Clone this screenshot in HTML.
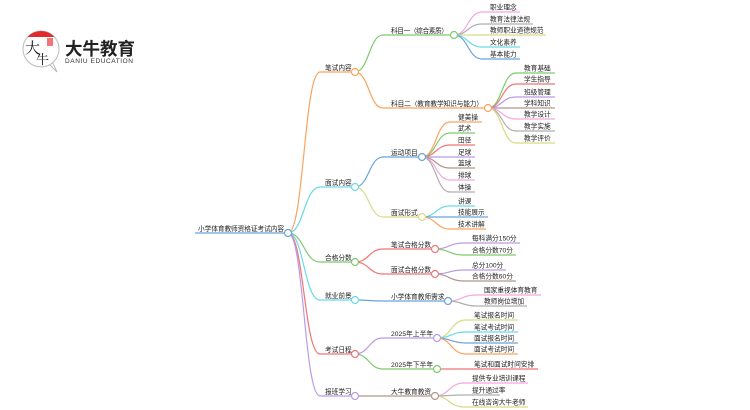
<!DOCTYPE html>
<html><head><meta charset="utf-8">
<style>
html,body{margin:0;padding:0;background:#fff;}
svg{display:block;}
text{font-family:"Liberation Sans","Noto Sans CJK SC",sans-serif;fill:#222;}
.t{font-size:6.7px;}
</style></head>
<body>
<svg width="750" height="410" viewBox="0 0 750 410" xmlns="http://www.w3.org/2000/svg">
<defs>
<clipPath id="lc"><circle cx="41" cy="49" r="18"/></clipPath>
</defs>
<!-- logo -->
<g>
<path d="M48,63 L57,72 L52,61 Z" fill="#fff" stroke="#bbb" stroke-width="1"/>
<circle cx="41" cy="49" r="18" fill="#fff" stroke="#bbb" stroke-width="1"/>
<rect x="20" y="28" width="42" height="9" fill="#E12B2B" clip-path="url(#lc)"/>
<text x="25" y="53" style="font-size:15px;font-family:'Noto Serif CJK SC',serif;fill:#111;">大</text>
<text x="36" y="64" style="font-size:13px;font-family:'Noto Serif CJK SC',serif;fill:#111;">牛</text>
<rect x="47" y="38" width="6" height="8" fill="#E55" opacity="0.8"/>
<text x="65" y="55" textLength="70" style="font-size:17.5px;font-weight:bold;fill:#222;">大牛教育</text>
<text x="65" y="63" textLength="68" style="font-size:6.5px;fill:#333;">DANIU EDUCATION</text>
</g>

<g fill="none" stroke-width="1.2">
<!-- root -->
<path d="M195,233 L288,233" stroke="#6AA3DB"/>
<!-- level1 edges -->
<path d="M288,233 C304,233 304,72 320,72 L355,72" stroke="#FBA35E"/>
<path d="M288,233 C304,233 304,187 320,187 L355,187" stroke="#6BD9EA"/>
<path d="M288,233 C304,233 304,262 320,262 L355,262" stroke="#7DCB6E"/>
<path d="M288,233 C304,233 304,300 320,300 L355,300" stroke="#6BD9EA"/>
<path d="M288,233 C304,233 304,354 320,354 L355,354" stroke="#F07575"/>
<path d="M288,233 C304,233 304,396 320,396 L355,396" stroke="#B99AE6"/>
<!-- level2 edges -->
<path d="M355,72 C369,72 369,35 383,35 L454,35" stroke="#7DCB6E"/>
<path d="M355,72 C369,72 369,108 383,108 L488,108" stroke="#FBA35E"/>
<path d="M355,187 C369,187 369,157 383,157 L422,157" stroke="#6AA3DB"/>
<path d="M355,187 C369,187 369,217 383,217 L422,217" stroke="#D9DB84"/>
<path d="M355,262 C369,262 369,249 383,249 L435,249" stroke="#F07575"/>
<path d="M355,262 C369,262 369,274 383,274 L435,274" stroke="#F07575"/>
<path d="M355,300 C369,300 369,301 383,301 L448,301" stroke="#6AA3DB"/>
<path d="M355,354 C369,354 369,338 383,338 L437,338" stroke="#B99AE6"/>
<path d="M355,354 C369,354 369,369 383,369 L437,369" stroke="#7DCB6E"/>
<path d="M355,396 C369,396 369,396 383,396 L435,396" stroke="#B2968C"/>
<!-- 科目一 leaves -->
<path d="M454,35 C468,35 468,12 482,12 L520,12" stroke="#F3A6E0"/>
<path d="M454,35 C468,35 468,24 482,24 L533,24" stroke="#AFAFAF"/>
<path d="M454,35 C468,35 468,35 482,35 L546,35" stroke="#D9DB84"/>
<path d="M454,35 C468,35 468,47 482,47 L520,47" stroke="#6BD9EA"/>
<path d="M454,35 C468,35 468,59 482,59 L520,59" stroke="#6AA3DB"/>
<!-- 科目二 leaves -->
<path d="M488,108 C502,108 502,73 516,73 L555,73" stroke="#7DCB6E"/>
<path d="M488,108 C502,108 502,84 516,84 L555,84" stroke="#F07575"/>
<path d="M488,108 C502,108 502,97 516,97 L555,97" stroke="#B99AE6"/>
<path d="M488,108 C502,108 502,108 516,108 L555,108" stroke="#B2968C"/>
<path d="M488,108 C502,108 502,119 516,119 L555,119" stroke="#F3A6E0"/>
<path d="M488,108 C502,108 502,131 516,131 L555,131" stroke="#AFAFAF"/>
<path d="M488,108 C502,108 502,143 516,143 L555,143" stroke="#D9DB84"/>
<!-- 运动项目 leaves -->
<path d="M422,157 C436,157 436,122 450,122 L482,122" stroke="#FBA35E"/>
<path d="M422,157 C436,157 436,133 450,133 L475,133" stroke="#7DCB6E"/>
<path d="M422,157 C436,157 436,145 450,145 L475,145" stroke="#F07575"/>
<path d="M422,157 C436,157 436,157 450,157 L475,157" stroke="#B99AE6"/>
<path d="M422,157 C436,157 436,168 450,168 L475,168" stroke="#B2968C"/>
<path d="M422,157 C436,157 436,180 450,180 L475,180" stroke="#F3A6E0"/>
<path d="M422,157 C436,157 436,192 450,192 L475,192" stroke="#AFAFAF"/>
<!-- 面试形式 leaves -->
<path d="M422,217 C436,217 436,206 450,206 L475,206" stroke="#6BD9EA"/>
<path d="M422,217 C436,217 436,217 450,217 L488,217" stroke="#6AA3DB"/>
<path d="M422,217 C436,217 436,229 450,229 L486,229" stroke="#FBA35E"/>
<!-- 合格分数 leaves -->
<path d="M435,249 C449,249 449,243 464,243 L520,243" stroke="#B99AE6"/>
<path d="M435,249 C449,249 449,255 464,255 L516,255" stroke="#7DCB6E"/>
<path d="M435,274 C449,274 449,270 464,270 L506,270" stroke="#B99AE6"/>
<path d="M435,274 C449,274 449,281 464,281 L516,281" stroke="#B2968C"/>
<!-- 需求 leaves -->
<path d="M448,301 C462,301 462,295 476,295 L541,295" stroke="#F3A6E0"/>
<path d="M448,301 C462,301 462,306 476,306 L527,306" stroke="#AFAFAF"/>
<!-- 上半年 leaves -->
<path d="M437,338 C451,338 451,320 466,320 L518,320" stroke="#D9DB84"/>
<path d="M437,338 C451,338 451,332 466,332 L518,332" stroke="#6BD9EA"/>
<path d="M437,338 C451,338 451,343 466,343 L518,343" stroke="#6AA3DB"/>
<path d="M437,338 C451,338 451,354 466,354 L518,354" stroke="#FBA35E"/>
<!-- 下半年 -->
<path d="M437,369 C451,369 451,369 466,369 L538,369" stroke="#F07575"/>
<!-- 大牛教育教资 leaves -->
<path d="M435,396 C449,396 449,383 464,383 L528,383" stroke="#F3A6E0"/>
<path d="M435,396 C449,396 449,395 464,395 L500,395" stroke="#AFAFAF"/>
<path d="M435,396 C449,396 449,407 464,407 L528,407" stroke="#D9DB84"/>
</g>

<!-- circles -->
<g fill="#fff" stroke-width="1.2">
<circle cx="288" cy="233" r="3.5" stroke="#6AA3DB"/>
<circle cx="355" cy="72" r="3.5" stroke="#FBA35E"/>
<circle cx="355" cy="187" r="3.5" stroke="#6BD9EA"/>
<circle cx="355" cy="262" r="3.5" stroke="#7DCB6E"/>
<circle cx="355" cy="300" r="3.5" stroke="#6BD9EA"/>
<circle cx="355" cy="354" r="3.5" stroke="#F07575"/>
<circle cx="355" cy="396" r="3.5" stroke="#B99AE6"/>
<circle cx="454" cy="35" r="3.5" stroke="#7DCB6E"/>
<circle cx="488" cy="108" r="3.5" stroke="#FBA35E"/>
<circle cx="422" cy="157" r="3.5" stroke="#6AA3DB"/>
<circle cx="422" cy="217" r="3.5" stroke="#D9DB84"/>
<circle cx="435" cy="249" r="3.5" stroke="#F07575"/>
<circle cx="435" cy="274" r="3.5" stroke="#F07575"/>
<circle cx="448" cy="301" r="3.5" stroke="#6AA3DB"/>
<circle cx="437" cy="338" r="3.5" stroke="#B99AE6"/>
<circle cx="437" cy="369" r="3.5" stroke="#7DCB6E"/>
<circle cx="435" cy="396" r="3.5" stroke="#B2968C"/>
</g>

<!-- texts -->
<g>
<text class="t" x="198" y="231" textLength="86">小学体育教师资格证考试内容</text>
<text class="t" x="325" y="70">笔试内容</text>
<text class="t" x="325" y="185">面试内容</text>
<text class="t" x="325" y="260">合格分数</text>
<text class="t" x="325" y="298">就业前景</text>
<text class="t" x="325" y="352">考试日程</text>
<text class="t" x="325" y="394">报班学习</text>

<text class="t" x="391" y="33" textLength="57">科目一（综合素质）</text>
<text class="t" x="391" y="106" textLength="92">科目二（教育教学知识与能力）</text>
<text class="t" x="391" y="155">运动项目</text>
<text class="t" x="391" y="215">面试形式</text>
<text class="t" x="391" y="247">笔试合格分数</text>
<text class="t" x="391" y="272">面试合格分数</text>
<text class="t" x="391" y="299">小学体育教师需求</text>
<text class="t" x="391" y="336" textLength="42">2025年上半年</text>
<text class="t" x="391" y="367" textLength="42">2025年下半年</text>
<text class="t" x="391" y="394">大牛教育教资</text>

<text class="t" x="490" y="9.5">职业理念</text>
<text class="t" x="490" y="21.5">教育法律法规</text>
<text class="t" x="490" y="32.5">教师职业道德规范</text>
<text class="t" x="490" y="44.5">文化素养</text>
<text class="t" x="490" y="56.5">基本能力</text>

<text class="t" x="524" y="70.5">教育基础</text>
<text class="t" x="524" y="81.5">学生指导</text>
<text class="t" x="524" y="94.5">班级管理</text>
<text class="t" x="524" y="105.5">学科知识</text>
<text class="t" x="524" y="116.5">教学设计</text>
<text class="t" x="524" y="128.5">教学实施</text>
<text class="t" x="524" y="140.5">教学评价</text>

<text class="t" x="458" y="119.5">健美操</text>
<text class="t" x="458" y="130.5">武术</text>
<text class="t" x="458" y="142.5">田径</text>
<text class="t" x="458" y="154.5">足球</text>
<text class="t" x="458" y="165.5">篮球</text>
<text class="t" x="458" y="177.5">排球</text>
<text class="t" x="458" y="189.5">体操</text>

<text class="t" x="458" y="203.5">讲课</text>
<text class="t" x="458" y="214.5">技能展示</text>
<text class="t" x="458" y="226.5">技术讲解</text>

<text class="t" x="472" y="240.5">每科满分150分</text>
<text class="t" x="472" y="252.5">合格分数70分</text>
<text class="t" x="472" y="267.5">总分100分</text>
<text class="t" x="472" y="278.5">合格分数60分</text>

<text class="t" x="484" y="292.5">国家重视体育教育</text>
<text class="t" x="484" y="303.5">教师岗位增加</text>

<text class="t" x="474" y="317.5">笔试报名时间</text>
<text class="t" x="474" y="329.5">笔试考试时间</text>
<text class="t" x="474" y="340.5">面试报名时间</text>
<text class="t" x="474" y="351.5">面试考试时间</text>
<text class="t" x="474" y="366.5">笔试和面试时间安排</text>

<text class="t" x="472" y="380.5">提供专业培训课程</text>
<text class="t" x="472" y="392.5">提升通过率</text>
<text class="t" x="472" y="404.5">在线咨询大牛老师</text>
</g>
</svg>
</body></html>
